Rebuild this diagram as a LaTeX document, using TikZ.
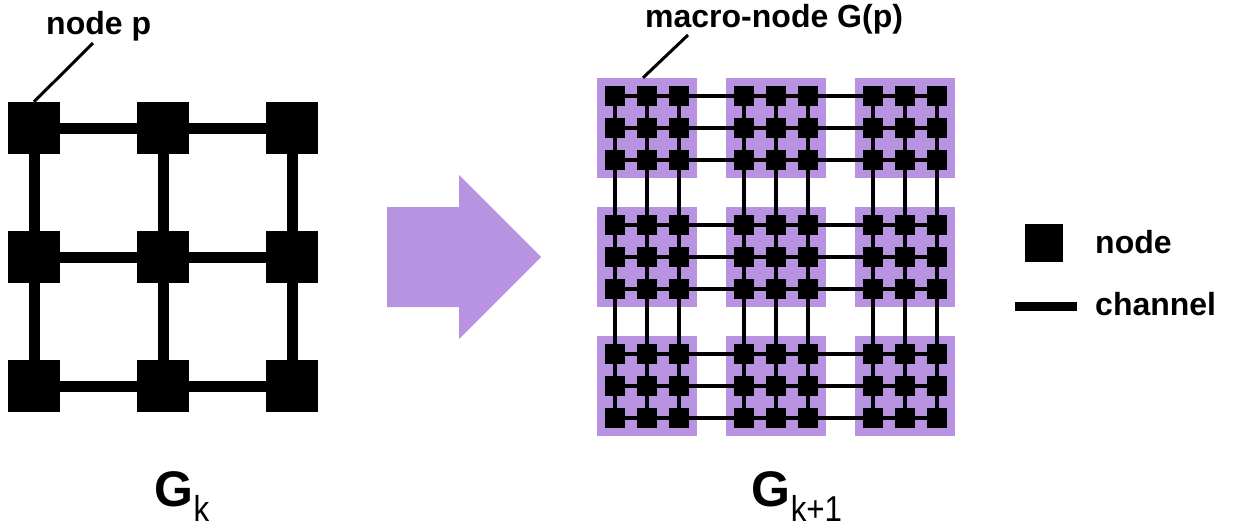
\documentclass[tikz,border=0pt]{standalone}
\usepackage{fontspec}
\setmainfont{Liberation Sans}
\definecolor{macro}{RGB}{184,147,225}
\tikzset{
  bignode/.style={fill=black, minimum size=52pt, inner sep=0pt},
  smallnode/.style={fill=black, minimum size=20pt, inner sep=0pt},
  keynode/.style={fill=black, minimum size=38pt, inner sep=0pt},
  macrobox/.style={fill=macro, minimum size=100pt, inner sep=0pt},
  bigchannel/.style={line width=11pt},
  smallchannel/.style={line width=4.5pt},
  leader/.style={line width=3pt},
  txtlabel/.style={font=\fontsize{32}{36}\selectfont\bfseries, inner sep=0pt},
}
\newcommand{\graphname}[1]{\fontsize{50}{52}\selectfont\bfseries G\raisebox{-15pt}{\scalebox{0.87}[1]{\fontsize{36}{38}\selectfont\mdseries #1}}}

\begin{document}
\begin{tikzpicture}[x=1pt, y=-1pt]
		\useasboundingbox (0,0) rectangle (1233,531);
		% G_k
		\foreach \i in {0,1,2}
			\foreach \j in {0,1,2}
				\node[bignode] (p\i\j) at ({34+129*\i},{128+129*\j}) {};
		\foreach \i in {0,1,2} {
			\draw[bigchannel] (p0\i) -- (p1\i) -- (p2\i);
			\draw[bigchannel] (p\i0) -- (p\i1) -- (p\i2);
		}
		\node[txtlabel, anchor=base west] (plabel) at (46,34) {node p};
		\coordinate (ptip) at (93,43);
		\draw[leader] (ptip) -- (p00.north);
		\node[anchor=base] (gk) at (182,506) {\graphname{k}};
		% arrow
		\fill[macro] (387,207) -- (459,207) -- (459,175) -- (541,257) -- (459,339) -- (459,307) -- (387,307) -- cycle;
		% G_{k+1}
		\foreach \i in {0,1,2}
			\foreach \j in {0,1,2}
				\node[macrobox] (G\i\j) at ({647+129*\i},{128+129*\j}) {};
		\foreach \i in {0,1,2}
			\foreach \a in {0,1,2}
				\foreach \j in {0,1,2}
					\foreach \b in {0,1,2} {
						\pgfmathtruncatemacro\col{3*\i+\a}
						\pgfmathtruncatemacro\row{3*\j+\b}
						\node[smallnode] (s-\col-\row) at ({615+129*\i+32*\a},{96+129*\j+32*\b}) {};
					}
		\foreach \k in {0,...,8}
			\foreach \l [count=\n] in {0,...,7} {
				\draw[smallchannel] (s-\l-\k) -- (s-\n-\k);
				\draw[smallchannel] (s-\k-\l) -- (s-\k-\n);
			}
		\node[txtlabel, anchor=base west] (glabel) at (645,27) {macro-node G(p)};
		\coordinate (gtip) at (688,35);
		\draw[leader] (gtip) -- ([xshift=-4pt]G00.north);
		\node[anchor=base] (gk1) at (797,506) {\graphname{k+1}};
		% legend
		\node[keynode] (keysq) at (1044,243) {};
		\node[txtlabel, anchor=base west] (keysqtxt) at (1095,253) {node};
		\coordinate (keya) at (1015,306);
		\coordinate (keyb) at (1077,306);
		\draw[line width=9pt] (keya) -- (keyb);
		\node[txtlabel, anchor=base west] (keylntxt) at (1095,315) {channel};
\end{tikzpicture}
\end{document}
